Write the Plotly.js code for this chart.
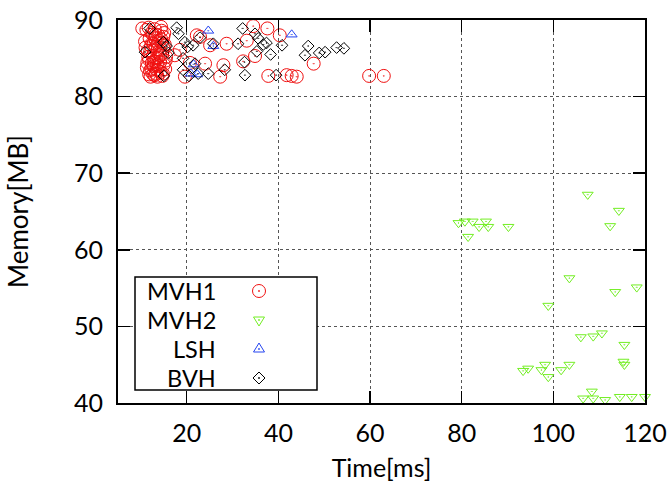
<!DOCTYPE html>
<html>
<head>
<meta charset="utf-8">
<script src="https://cdn.plot.ly/plotly-3.0.1.min.js"></script>
<style>html,body{margin:0;padding:0;background:#fff;}#chart{width:671px;height:489px;}</style>
</head>
<body>
<div id="chart"></div>
<script>
// ---- data ----
const seriesNames = ["MVH1", "MVH2", "LSH", "BVH"];

const mvh1X = [10.3,10.9,11.2,11.5,11.8,12.0,12.1,12.3,12.5,12.6,12.8,13.0,13.0,13.2,13.4,13.5,13.6,13.8,14.0,14.1,14.2,14.3,14.5,14.6,14.7,14.9,15.0,15.2,15.3,11.7,12.4,13.9,12.2,14.4,11.3,15.5,13.1,14.8,12.7,13.7,
  11.0,11.6,12.9,13.3,14.6,15.1,11.9,12.6,13.5,14.2,11.4,12.0,13.8,14.9,12.3,13.2,14.4,11.8,12.8,15.4,
  17.4,18.5,19.6,20.7,22.2,22.9,24.0,25.1,27.3,28.0,28.7,32.3,33.1,34.5,34.9,37.6,37.8,40.3,41.8,42.9,44.0,47.7,59.8,63.0];
const mvh1Y = [88.9,87.2,88.7,86.0,84.8,83.4,82.6,88.3,87.0,85.3,84.0,82.8,88.8,86.5,85.0,83.5,82.6,88.0,87.3,86.0,84.5,83.2,88.6,85.6,82.7,87.8,84.2,86.8,83.6,89.0,84.4,84.0,86.6,89.1,83.8,85.2,87.6,83.0,82.9,86.2,
  86.4,85.2,84.6,83.0,87.0,88.3,87.6,88.1,84.2,85.4,84.4,85.8,85.1,86.4,83.6,88.1,87.5,82.9,86.9,84.7,
  85.4,86.1,82.6,84.4,88.0,87.8,84.3,86.7,82.6,84.1,86.9,84.6,87.3,89.2,85.3,88.9,82.7,88.0,82.8,82.7,82.6,84.3,82.7,82.7];

const mvh2X = [107.5,114.3,112.4,79.3,80.7,82.4,83.8,85.3,85.8,81.4,90.2,103.5,113.5,118.2,98.9,106.0,108.7,110.6,115.5,115.3,115.5,93.4,94.5,97.4,98.2,98.9,101.7,103.5,106.5,108.4,108.7,111.3,111.6,114.5,117.1,120.0];
const mvh2Y = [67.2,65.1,63.1,63.5,63.7,63.7,63.0,63.7,63.0,61.7,63.0,56.3,54.5,55.1,52.7,48.6,48.7,49.1,47.6,45.4,45.0,44.2,44.5,44.3,45.0,43.4,44.3,45.0,40.6,41.5,40.6,40.4,39.9,40.8,40.8,40.8];

const lshX = [14.6,24.7,25.8,21.5,20.9,22.3,42.9];
const lshY = [90.1,88.6,86.6,84.2,83.0,82.9,88.1];

const bvhX = [10.9,11.9,14.9,15.6,16.0,15.0,17.8,18.2,19.6,20.2,21.4,19.2,20.5,19.2,21.8,22.9,22.5,24.7,25.8,28.3,31.2,32.2,32.6,32.7,34.9,35.6,35.3,36.7,37.4,38.3,39.5,40.8,46.5,45.8,48.9,50.2,52.7,54.3];
const bvhY = [85.8,88.9,87.1,86.6,85.7,82.7,89.0,88.2,87.1,86.5,86.7,83.5,82.7,85.0,84.3,87.7,83.0,83.0,86.9,83.5,86.9,88.9,84.5,82.8,88.2,87.6,85.9,86.8,87.0,85.5,82.8,86.7,86.6,85.4,85.7,85.8,86.4,86.3];

const xTicks = [20, 40, 60, 80, 100, 120];
const yTicks = [40, 50, 60, 70, 80, 90];

// ---- styling ----
const FONT = "Lato, Open Sans, sans-serif";
const FS = 25;
const colors = ["#f01010", "#72ee22", "#2444f0", "#000000"];
const symbols = ["circle-open-dot", "triangle-down-open-dot", "triangle-up-open-dot", "diamond-open-dot"];
const sizes = [13, 9.5, 9.5, 9];

const xs = [mvh1X, mvh2X, lshX, bvhX];
const ys = [mvh1Y, mvh2Y, lshY, bvhY];

const traces = seriesNames.map((n, i) => ({
  type: "scatter", mode: "markers", name: n, x: xs[i], y: ys[i],
  cliponaxis: false, showlegend: false,
  marker: { symbol: symbols[i], size: sizes[i], color: colors[i], line: { width: 1, color: colors[i] } }
}));

// plot area in px
const L = 118, R = 26, T = 20, B = 86, W = 671, H = 489;
const pw = W - L - R, ph = H - T - B;
const px2x = p => (p - L) / pw;
const py2y = p => (H - B - p) / ph;

// custom gnuplot-like legend: box, right-aligned labels, keys on the right
const rowPy = [291, 320, 349, 378];
const keyX = px2x(259);
const textX = px2x(218);
const annotations = seriesNames.map((n, i) => ({
  xref: "paper", yref: "paper", x: textX, y: py2y(rowPy[i]), xanchor: "right", yanchor: "middle",
  text: n, showarrow: false, font: { family: FONT, size: 23.5, color: "#000" }
}));

const shapes = [{
  type: "rect", xref: "paper", yref: "paper",
  x0: px2x(135), x1: px2x(317), y0: py2y(390), y1: py2y(277),
  line: { color: "#000", width: 1.5 }, fillcolor: "rgba(255,255,255,1)", layer: "above"
}];
const keyPaths = [
  null,
  "M-5.5,3 L5.5,3 L0,-6 Z",
  "M-5.5,-3 L5.5,-3 L0,6 Z",
  "M0,-6 L6,0 L0,6 L-6,0 Z"
];
seriesNames.forEach((n, i) => {
  const base = { xref: "paper", yref: "paper", xsizemode: "pixel", ysizemode: "pixel",
    xanchor: keyX, yanchor: py2y(rowPy[i]), layer: "above" };
  if (i === 0) {
    shapes.push(Object.assign({}, base, { type: "circle", x0: -6.5, x1: 6.5, y0: -6.5, y1: 6.5,
      line: { color: colors[i], width: 1 } }));
  } else {
    shapes.push(Object.assign({}, base, { type: "path", path: keyPaths[i], line: { color: colors[i], width: 1 } }));
  }
  shapes.push(Object.assign({}, base, { type: "circle", x0: -0.7, x1: 0.7, y0: -0.7, y1: 0.7,
    line: { color: colors[i], width: 0.5 }, fillcolor: colors[i] }));
});

const axisCommon = {
  showline: true, linecolor: "#000", linewidth: 2, mirror: "ticks",
  ticks: "inside", ticklen: 12, tickwidth: 1.5, tickcolor: "#000",
  showgrid: true, gridcolor: "#555", gridwidth: 1, griddash: "dot",
  zeroline: false, tickfont: { family: FONT, size: FS, color: "#000" }
};

const layout = {
  width: W, height: H,
  margin: { l: L, r: R, t: T, b: B },
  paper_bgcolor: "#fff", plot_bgcolor: "#fff",
  showlegend: false,
  xaxis: Object.assign({}, axisCommon, {
    range: [5, 120], tickvals: xTicks, ticktext: xTicks.map(String), ticklabelstandoff: 7,
    title: { text: "Time[ms]", font: { family: FONT, size: FS, color: "#000" }, standoff: 13 }
  }),
  yaxis: Object.assign({}, axisCommon, {
    range: [40, 90], tickvals: yTicks, ticktext: yTicks.map(String), ticklabelstandoff: 8,
    title: { text: "Memory[MB]", font: { family: FONT, size: 26, color: "#000" }, standoff: 38 }
  }),
  annotations: annotations,
  shapes: shapes
};

Plotly.newPlot("chart", traces, layout, { staticPlot: true, displayModeBar: false });
</script>
</body>
</html>
